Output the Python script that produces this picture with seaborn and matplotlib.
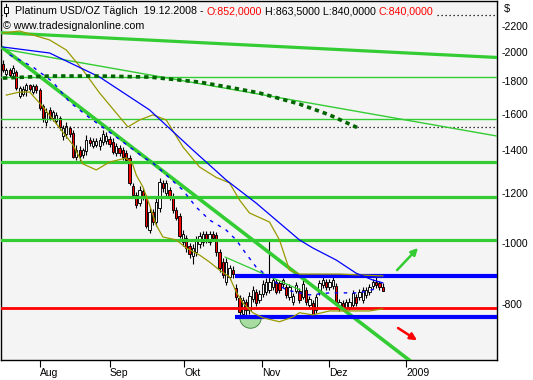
import numpy as np
import pandas as pd
import matplotlib
matplotlib.use("Agg")
import matplotlib.pyplot as plt
from matplotlib.lines import Line2D
from matplotlib.patches import Rectangle
from matplotlib.ticker import NullLocator
import seaborn as sns

# ---------------- data ----------------
opens = [1916, 1848, 1874, 1854, 1861, 1705, 1717, 1743, 1775, 1730, 1769, 1743, 1644, 1552, 1621, 1575, 1558, 1575, 1474, 1485,
         1518, 1491, 1366, 1401, 1376, 1396, 1453, 1422, 1427, 1422, 1443, 1448, 1458, 1443, 1386, 1411, 1401, 1386, 1361, 1229,
         1190, 1155, 1207, 1177, 1047, 1118, 1078, 1134, 1243, 1198, 1211, 1185, 1126, 1102, 1003, 1017, 988, 953, 967, 995,
         1003, 1032, 1003, 1032, 1028, 967, 932, 867, 883, 905, 848, 818, 772, 806, 783, 815, 836, 812, 830, 836,
         842, 851, 867, 864, 860, 851, 821, 806, 839, 839, 821, 842, 797, 803, 783, 836, 857, 867, 851, 854,
         854, 789, 803, 789, 792, 797, 821, 821, 812, 827, 836, 854, 867, 864, 852]
highs = [1944, 1888, 1888, 1909, 1874, 1769, 1769, 1788, 1781, 1781, 1781, 1756, 1656, 1633, 1639, 1621, 1610, 1586, 1535, 1552,
         1529, 1507, 1427, 1422, 1411, 1480, 1469, 1464, 1464, 1469, 1507, 1496, 1474, 1464, 1437, 1427, 1417, 1401, 1376, 1243,
         1202, 1229, 1220, 1190, 1134, 1130, 1177, 1265, 1256, 1256, 1225, 1198, 1138, 1114, 1047, 1028, 999, 995, 1024, 1039,
         1043, 1043, 1043, 1043, 1039, 978, 946, 946, 922, 918, 860, 827, 821, 815, 836, 854, 845, 842, 873, 879,
         1010, 883, 876, 870, 879, 860, 860, 833, 867, 848, 873, 851, 824, 812, 830, 873, 883, 876, 876, 883,
         864, 815, 812, 815, 818, 842, 830, 845, 851, 851, 860, 876, 886, 870, 863.5]
lows = [1861, 1834, 1827, 1834, 1743, 1693, 1705, 1705, 1737, 1717, 1724, 1621, 1552, 1529, 1563, 1558, 1541, 1507, 1453, 1464,
        1469, 1361, 1351, 1337, 1361, 1376, 1422, 1411, 1417, 1401, 1427, 1432, 1417, 1381, 1371, 1371, 1351, 1337, 1234, 1177,
        1134, 1143, 1168, 1055, 1036, 1066, 1062, 1118, 1202, 1177, 1168, 1114, 1086, 1017, 988, 967, 946, 925, 953, 981,
        988, 999, 992, 1006, 953, 899, 879, 857, 876, 879, 812, 766, 761, 769, 772, 806, 794, 803, 821, 827,
        833, 842, 830, 833, 851, 818, 812, 797, 833, 803, 815, 797, 789, 761, 775, 827, 848, 842, 842, 845,
        800, 780, 783, 780, 783, 789, 794, 812, 803, 818, 827, 845, 848, 842, 840]
closes = [1874, 1874, 1841, 1888, 1756, 1756, 1749, 1775, 1749, 1769, 1743, 1633, 1575, 1610, 1575, 1610, 1592, 1524, 1518, 1529,
          1485, 1366, 1401, 1371, 1401, 1453, 1437, 1448, 1448, 1453, 1485, 1474, 1432, 1391, 1422, 1386, 1366, 1351, 1243, 1190,
          1147, 1211, 1181, 1062, 1118, 1078, 1160, 1247, 1220, 1243, 1185, 1126, 1094, 1024, 1032, 981, 960, 981, 1010, 1024,
          1032, 1010, 1032, 1017, 967, 912, 889, 932, 912, 892, 821, 777, 812, 783, 824, 842, 803, 830, 860, 867,
          867, 873, 836, 842, 873, 827, 851, 824, 857, 812, 860, 806, 815, 769, 821, 864, 873, 851, 867, 873,
          806, 806, 792, 806, 806, 833, 803, 836, 842, 842, 851, 867, 857, 851, 840]

month_ticks = [11.1, 32.1, 54.4, 77.8, 97.9, 121.0]
month_labels = ["Aug", "Sep", "Okt", "Nov", "Dez", "2009"]
price_ticks = [800, 1000, 1200, 1400, 1600, 1800, 2000, 2200]

# moving average (solid blue)
ma_x = [0, 14, 29, 44, 57, 67, 76, 89, 93, 100, 106, 111, 114]
ma_y = [2038, 1994, 1827, 1621, 1401, 1256, 1155, 1010, 981, 939, 895, 873, 864]
# short moving average (dashed blue)
ma2_x = [2, 5, 9, 15, 20, 26, 34, 38, 42, 45, 49, 54, 58, 62, 67, 70, 73, 76, 79, 82, 85, 89, 92, 98, 102, 107, 113]
ma2_y = [1980, 1944, 1895, 1794, 1668, 1575, 1469, 1417, 1366, 1337, 1279, 1211, 1138, 1086, 1047, 1010, 960, 915, 889,
         864, 842, 833, 827, 833, 833, 833, 848]
# bollinger bands (olive)
bbu_x = [0, 5, 14, 19, 24, 29, 34, 37.5, 41, 45, 49, 54, 59, 64, 68, 71, 74, 80, 83, 86, 89, 101, 114]
bbu_y = [2145, 2160, 2091, 2016, 1874, 1724, 1603, 1524, 1563, 1592, 1563, 1417, 1317, 1268, 1243, 1168, 1114, 1078, 1010,
         905, 892, 892, 886]
bbl_x = [1, 5, 8, 12, 17, 21, 24, 28, 32, 37, 39, 40, 42, 44, 46, 48, 52, 55, 59, 62, 65, 68, 70, 72, 75, 78, 83, 87, 89,
         93, 98, 104, 110, 114]
bbl_y = [1711, 1730, 1730, 1639, 1518, 1427, 1332, 1303, 1341, 1361, 1327, 1279, 1225, 1147, 1066, 1021, 1010, 981, 956, 932,
         905, 883, 836, 803, 775, 761, 750, 763, 775, 769, 780, 780, 780, 786]
# long average (dark green dots)
sma_x = [0, 14, 29, 44, 59, 69, 77, 89, 98, 106.6]
sma_y = [1820, 1834, 1834, 1827, 1794, 1756, 1724, 1656, 1592, 1518]

# horizontal levels
thin_green_levels = [1829, 1568]
thick_green_levels = [1343, 1182, 1010]
blue_levels = [886, 763]
blue_start = 69.7
red_levels = [788]
dotted_levels = [1522, 2290]

# trend lines
trend_top_x, trend_top_y = [-0.6, 148.3], [2147, 1962]
trend_mid_x, trend_mid_y = [0, 148.3], [2023, 1474]
trend_steep_x, trend_steep_y = [0, 125], [2029, 634]
trend_short_x, trend_short_y = [66.7, 89.2], [949, 842]

arrow_up = [(118.3, 905), (124.6, 981)]
arrow_down = [(118.6, 733), (124.3, 701)]
low_mark = (74.2, 763)

W, H = 533, 380
GREEN = "#33cc33"
BLUE = "#0000ff"
RED = "#ff0000"
OLIVE = "#999900"
DKGREEN = "#006400"
BG = "#f4f4f4"

plt.rcParams["font.family"] = ["Liberation Sans", "DejaVu Sans"]

fig = plt.figure(figsize=(W / 100, H / 100), dpi=100, facecolor="white")
ax = fig.add_axes([1 / W, 20 / H, 496 / W, 359 / H])
ax.set_facecolor(BG)
ax.set_yscale("log")
ax.set_xlim(-0.6, 148.3)
ax.set_ylim(652.5, 2409.5)

# candles
df = pd.DataFrame({"o": opens, "h": highs, "l": lows, "c": closes})
df["i"] = np.arange(len(df))
ax.vlines(df["i"], df["l"], df["h"], color="black", lw=0.8, zorder=2)
bottoms = np.minimum(df["o"], df["c"])
heights = np.maximum(np.abs(df["c"] - df["o"]), 1.5)
colors = np.where(df["c"] >= df["o"], "white", RED)
ax.bar(df["i"], heights, bottom=bottoms, width=0.66, color=colors, edgecolor="black", linewidth=0.65, zorder=2.2)

# low marker (half disk)
t = np.linspace(np.pi, 2 * np.pi, 25)
verts = list(zip(np.cos(t), np.sin(t))) + [(1, 0)]
ax.scatter([low_mark[0]], [low_mark[1]], marker=verts, s=240, facecolor="#a8dca0", edgecolor="#2e7d2e", linewidth=0.6,
           zorder=1.5)

# horizontal lines
for v in thin_green_levels:
    ax.axhline(v, color=GREEN, lw=1.0, zorder=3)
for v in thick_green_levels:
    ax.axhline(v, color=GREEN, lw=2.3, zorder=3)
for v in red_levels:
    ax.axhline(v, color=RED, lw=2.0, zorder=3)
for v in dotted_levels:
    ax.axhline(v, color="black", lw=0.9, ls=(0, (1, 2.2)), zorder=3)
for v in blue_levels:
    ax.plot([blue_start, 148.3], [v, v], color=BLUE, lw=3.0, solid_capstyle="butt", zorder=3.2)

# trend lines
ax.plot(trend_top_x, trend_top_y, color=GREEN, lw=2.3, zorder=3)
ax.plot(trend_mid_x, trend_mid_y, color=GREEN, lw=1.0, zorder=3)
ax.plot(trend_steep_x, trend_steep_y, color=GREEN, lw=2.6, zorder=3)
ax.plot(trend_short_x, trend_short_y, color=GREEN, lw=0.9, zorder=3)

# indicators
sns.lineplot(x=ma_x, y=ma_y, ax=ax, color=BLUE, lw=0.9, estimator=None, sort=False, zorder=3.5)
sns.lineplot(x=ma2_x, y=ma2_y, ax=ax, color=BLUE, lw=1.0, estimator=None, sort=False, zorder=3.5,
             dashes=False, linestyle=(0, (2.5, 4)))
sns.lineplot(x=bbu_x, y=bbu_y, ax=ax, color=OLIVE, lw=0.9, estimator=None, sort=False, zorder=3.4)
sns.lineplot(x=bbl_x, y=bbl_y, ax=ax, color=OLIVE, lw=0.9, estimator=None, sort=False, zorder=3.4)
ax.plot(sma_x, sma_y, color=DKGREEN, lw=2.6, ls=(0, (1.2, 1.1)), zorder=3.6)

# arrows
ax.annotate("", xy=arrow_up[1], xytext=arrow_up[0],
            arrowprops=dict(arrowstyle="-|>", color=GREEN, lw=1.8, mutation_scale=10, shrinkA=0, shrinkB=0), zorder=4)
ax.annotate("", xy=arrow_down[1], xytext=arrow_down[0],
            arrowprops=dict(arrowstyle="-|>", color=RED, lw=1.8, mutation_scale=10, shrinkA=0, shrinkB=0), zorder=4)

# axes styling
for s in ax.spines.values():
    s.set_color("black")
    s.set_linewidth(1.0)
ax.yaxis.tick_right()
ax.set_yticks(price_ticks)
ax.set_yticklabels([f"-{v}" for v in price_ticks])
ax.yaxis.set_minor_locator(NullLocator())
ax.tick_params(axis="y", length=0, pad=3, labelsize=7.5, colors="black")
ax.set_xticks(month_ticks)
ax.set_xticklabels(month_labels, ha="left")
ax.tick_params(axis="x", direction="out", length=5, width=0.8, pad=1, labelsize=7.5)
ax.set_xlabel("")
ax.set_ylabel("")


# header
def fx(px):
    return px / W


def fy(py):
    return 1 - py / H


segments = [("Platinum USD/OZ Täglich  19.12.2008 - ", "black"), ("O:852,0000", RED), (" H:863,5000 L:840,0000 ", "black"),
            ("C:840,0000", RED)]
fig.canvas.draw()
renderer = fig.canvas.get_renderer()
xpos = fx(15)
for txt, col in segments:
    tt = fig.text(xpos, fy(14), txt, fontsize=7.7, color=col, va="baseline", ha="left", zorder=5)
    bb = tt.get_window_extent(renderer=renderer)
    xpos = bb.x1 / fig.bbox.width
# background strip behind the header line (hides the dotted level under it)
fig.add_artist(Rectangle((fx(3), fy(18)), xpos - fx(3) + 2 / W, 15 / H, facecolor=BG, edgecolor="none",
                         transform=fig.transFigure, zorder=1))
fig.add_artist(Line2D([fx(6), fx(6)], [fy(4), fy(16)], color="black", lw=0.8, transform=fig.transFigure, zorder=2))
fig.add_artist(Rectangle((fx(4), fy(13)), 4 / W, 6 / H, facecolor="white", edgecolor="black", lw=0.7,
                         transform=fig.transFigure, zorder=2.5))
fig.text(fx(3), fy(29), "© www.tradesignalonline.com", fontsize=7.7, color="black", va="baseline", ha="left")
fig.text(fx(504), fy(12), "$", fontsize=8, color="black", va="baseline", ha="left")

fig.savefig("out.png", dpi=100, facecolor="white")
